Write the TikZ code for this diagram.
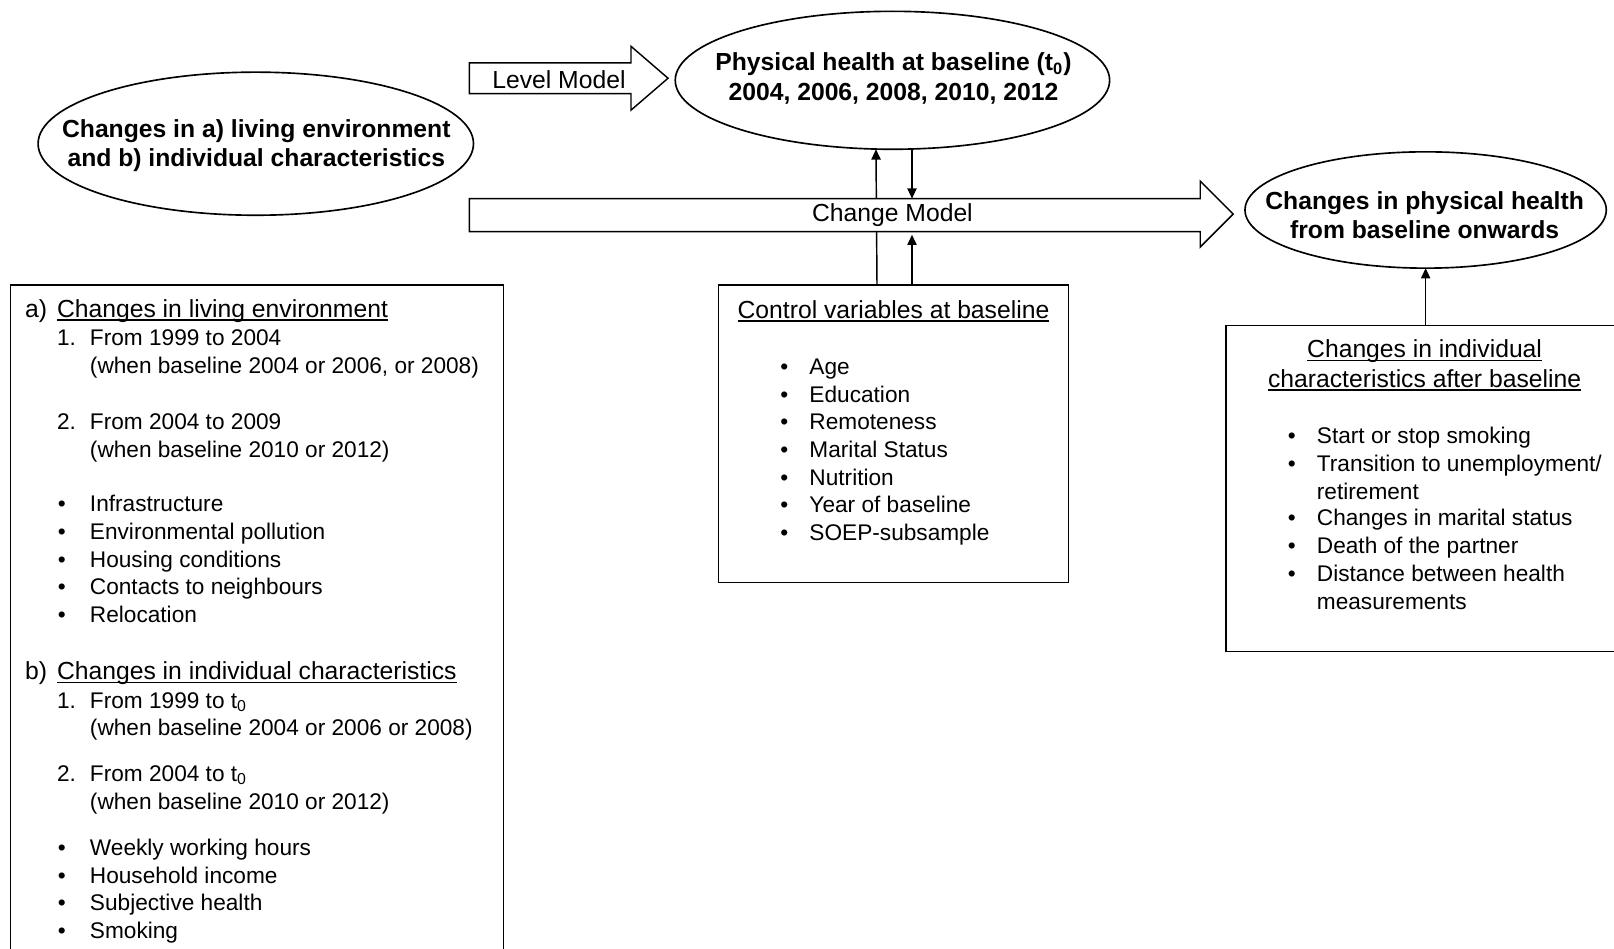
\documentclass[tikz,border=0pt]{standalone}
\usepackage{fontspec}
\setmainfont{Liberation Sans}
\usetikzlibrary{shapes.geometric,arrows.meta}

\newcommand{\ulin}[1]{\setbox0\hbox{#1}\rlap{\rule[-1.7pt]{\wd0}{0.55pt}}\box0}

\tikzset{
  oval/.style={draw, ellipse, line width=0.8pt, inner sep=0pt, outer sep=0pt},
  frame/.style={draw, rectangle, line width=0.7pt, inner sep=0pt, outer sep=0pt},
  head/.style={font=\fontsize{12}{14}\selectfont, inner sep=0pt, anchor=base west},
  body/.style={font=\fontsize{11}{13}\selectfont, inner sep=0pt, anchor=base west},
  dot/.style={font=\fontsize{11}{13}\selectfont, inner sep=0pt, anchor=base},
  bold/.style={font=\bfseries\fontsize{12}{14.5}\selectfont, align=center, inner sep=0pt},
  tip/.style={-{Triangle[length=5pt,width=4.5pt]}, line width=0.7pt},
  blockarrow/.style={draw, line width=0.7pt, fill=white},
}

\begin{document}
\begin{tikzpicture}[x=0.5pt, y=-0.5pt]
      \useasboundingbox (0,0) rectangle (1568,921);
      \fill[white] (0,0) rectangle (1568,921);
      \clip (0,0) rectangle (1568,921);

      % ellipses
      \node[oval, minimum width=211.5pt, minimum height=69.5pt] (envell) at (248.5,139.6) {};
      \node[bold] (envtxt) at (249,141.5) {Changes in a) living environment\\and b) individual characteristics};
      \node[oval, minimum width=211pt, minimum height=67pt] (baseell) at (867,78) {};
      \node[bold] (basetxt) at (868,76.5) {Physical health at baseline (t\textsubscript{0})\\2004, 2006, 2008, 2010, 2012};
      \node[oval, minimum width=175.5pt, minimum height=56.5pt] (chgell) at (1385,204) {};
      \node[bold] (chgtxt) at (1384,209) {Changes in physical health\\from baseline onwards};

      % boxes
      \node[frame, minimum width=239.5pt, minimum height=331.5pt] (envbox) at (249.5,608.5) {};
      \node[frame, minimum width=170pt, minimum height=144.5pt] (ctrlbox) at (868,421.5) {};
      \node[frame, minimum width=194.5pt, minimum height=158.5pt] (indbox) at (1385.5,474.5) {};

      % arrows between them
      \coordinate (bartop) at (886,193);
      \coordinate (barbot) at (886,228);
      \draw[tip] ([xshift=-8pt]ctrlbox.north) -- ([xshift=-8pt]baseell.south);
      \draw[tip] ([xshift=9.5pt]baseell.south) -- (bartop);
      \draw[tip] ([xshift=9pt]ctrlbox.north) -- (barbot);
      \draw[tip] (indbox.north -| chgell.south) -- (chgell.south);

      % model arrows
      \draw[blockarrow] (456,61) -- (613,61) -- (613,45) -- (649,76) -- (613,107) -- (613,91) -- (456,91) -- cycle;
      \node[font=\fontsize{12}{14}\selectfont, inner sep=0pt] (lvltxt) at (543,77) {Level Model};
      \draw[blockarrow] (456,193) -- (1166,193) -- (1166,176) -- (1198,208) -- (1166,240) -- (1166,225) -- (456,225) -- cycle;
      \node[font=\fontsize{12}{14}\selectfont, inner sep=0pt] (chgmod) at (867,209) {Change Model};

      % left box
      \node[head] (alab) at (24,308) {a)};
      \node[head] (ahead) at (55,308) {\ulin{Changes in living environment}};
      \node[body] (a1n) at (55,336) {1.};
      \node[body] (a1) at (87,336) {From 1999 to 2004};
      \node[body] (a1w) at (87,363) {(when baseline 2004 or 2006, or 2008)};
      \node[body] (a2n) at (55,417) {2.};
      \node[body] (a2) at (87,417) {From 2004 to 2009};
      \node[body] (a2w) at (87,444) {(when baseline 2010 or 2012)};
      \foreach \txt [count=\i] in {Infrastructure, Environmental pollution, Housing conditions, Contacts to neighbours, Relocation}{
        \node[dot] (adot\i) at (60,{497+27*(\i-1)}) {\textbullet};
        \node[body] (aitem\i) at (87,{497+27*(\i-1)}) {\txt};
      }
      \node[head] (blab) at (24,660) {b)};
      \node[head] (bhead) at (55,660) {\ulin{Changes in individual characteristics}};
      \node[body] (b1n) at (55,688) {1.};
      \node[body] (b1) at (87,688) {From 1999 to t\textsubscript{0}};
      \node[body] (b1w) at (87,715) {(when baseline 2004 or 2006 or 2008)};
      \node[body] (b2n) at (55,759) {2.};
      \node[body] (b2) at (87,759) {From 2004 to t\textsubscript{0}};
      \node[body] (b2w) at (87,786) {(when baseline 2010 or 2012)};
      \foreach \txt [count=\i] in {Weekly working hours, Household income, Subjective health, Smoking}{
        \node[dot] (bdot\i) at (60,{831+27*(\i-1)}) {\textbullet};
        \node[body] (bitem\i) at (87,{831+27*(\i-1)}) {\txt};
      }

      % control box
      \node[head, anchor=base] (chead) at (868,309) {\ulin{Control variables at baseline}};
      \foreach \txt [count=\i] in {Age, Education, Remoteness, Marital Status, Nutrition, Year of baseline, SOEP-subsample}{
        \node[dot] (cdot\i) at (762,{364+26.8*(\i-1)}) {\textbullet};
        \node[body] (citem\i) at (786,{364+26.8*(\i-1)}) {\txt};
      }

      % right box
      \node[head, anchor=base] (rhead1) at (1384,347) {\ulin{Changes in individual}};
      \node[head, anchor=base] (rhead2) at (1384,376) {\ulin{characteristics after baseline}};
      \foreach \y [count=\i] in {431,458,511,538,565}
        \node[dot] (rdot\i) at (1255,\y) {\textbullet};
      \node[body] (ritem1) at (1279,431) {Start or stop smoking};
      \node[body] (ritem2) at (1279,458) {Transition to unemployment/};
      \node[body] (ritem2b) at (1279,485) {retirement};
      \node[body] (ritem3) at (1279,511) {Changes in marital status};
      \node[body] (ritem4) at (1279,538) {Death of the partner};
      \node[body] (ritem5) at (1279,565) {Distance between health};
      \node[body] (ritem5b) at (1279,592) {measurements};
    \end{tikzpicture}
\end{document}
